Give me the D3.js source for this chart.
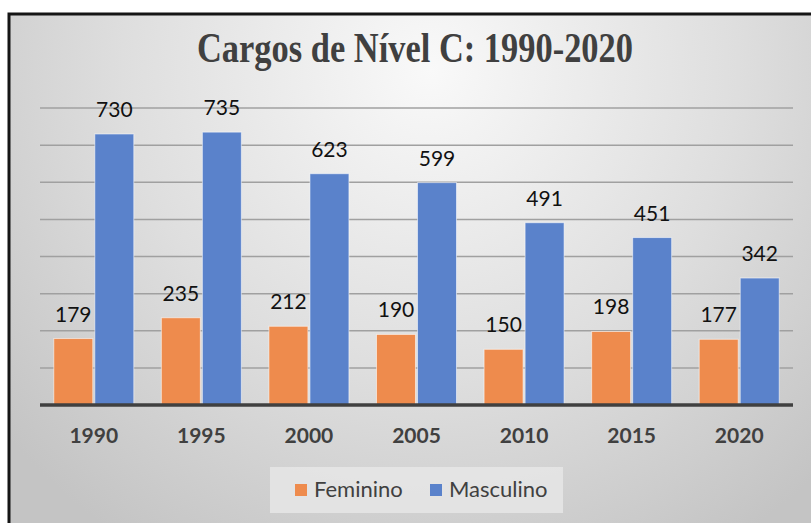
<!DOCTYPE html>
<html lang="pt">

<head>
  <meta charset="UTF-8">
  <title>Cargos de Nível C</title>
  <style>
    body {
      margin: 0;
      padding: 0;
      background: #fff;
    }

    svg {
      display: block;
    }

    .lbl {
      font-family: Lato, sans-serif;
      font-size: 21px;
      fill: #111;
    }

    .xlbl {
      font-family: Lato, sans-serif;
      font-weight: bold;
      font-size: 21px;
      fill: #404040;
    }

    .leg {
      font-family: Lato, sans-serif;
      font-size: 22px;
      fill: #404040;
    }
  </style>
</head>

<body>
  <div class="visual"></div>

  <script src="https://cdnjs.cloudflare.com/ajax/libs/d3/7.8.5/d3.min.js"></script>
  <script>
    'use strict';

    // data
    const years = ['1990', '1995', '2000', '2005', '2010', '2015', '2020'];
    const series = ['Feminino', 'Masculino'];
    const feminino = [179, 235, 212, 190, 150, 198, 177];
    const masculino = [730, 735, 623, 599, 491, 451, 342];
    const gridTicks = [100, 200, 300, 400, 500, 600, 700, 800];
    const colors = ['#ee8b4d', '#5a82cb'];

    const w = 811,
      h = 523;
    const plotLeft = 40,
      plotRight = 793,
      plotTop = 108,
      base = 405;

    const rows = years.map((yr, i) => ({ year: yr, values: [feminino[i], masculino[i]] }));

    const svg = d3.select('.visual')
      .append('svg')
      .attr('width', w)
      .attr('height', h);

    const defs = svg.append('defs');
    const grad = defs.append('radialGradient')
      .attr('id', 'bg')
      .attr('gradientUnits', 'userSpaceOnUse')
      .attr('cx', 430).attr('cy', 70).attr('r', 560);
    grad.append('stop').attr('offset', '0').attr('stop-color', '#f9f9f9');
    grad.append('stop').attr('offset', '0.55').attr('stop-color', '#dedede');
    grad.append('stop').attr('offset', '1').attr('stop-color', '#c4c4c4');

    // background + frame
    svg.append('rect')
      .attr('x', 9).attr('y', 14)
      .attr('width', 900).attr('height', 600)
      .attr('fill', 'url(#bg)')
      .attr('stroke', '#151515')
      .attr('stroke-width', 3);

    // title
    svg.append('text')
      .attr('x', 415)
      .attr('y', 62)
      .attr('text-anchor', 'middle')
      .attr('textLength', 436)
      .attr('lengthAdjust', 'spacingAndGlyphs')
      .style('font-family', '"Liberation Serif", "Times New Roman", serif')
      .style('font-weight', 'bold')
      .style('font-size', '42px')
      .style('fill', '#404040')
      .text('Cargos de Nível C: 1990-2020');

    const x0 = d3.scaleBand()
      .domain(years)
      .range([plotLeft, plotRight]);

    const step = x0.step();
    const x1 = d3.scaleBand()
      .domain(series)
      .range([(step - 80) / 2, (step + 80) / 2])
      .paddingInner(0.05);

    const y = d3.scaleLinear()
      .domain([0, 800])
      .range([base, plotTop]);

    // gridlines
    svg.append('g')
      .selectAll('line')
      .data(gridTicks)
      .join('line')
      .attr('x1', plotLeft)
      .attr('x2', plotRight)
      .attr('y1', d => y(d))
      .attr('y2', d => y(d))
      .attr('stroke', '#a0a0a0')
      .attr('stroke-width', 1.5);

    // bars
    const groups = svg.append('g')
      .selectAll('g')
      .data(rows)
      .join('g')
      .attr('transform', d => `translate(${x0(d.year)},0)`);

    groups.selectAll('rect')
      .data(d => d.values.map((v, i) => ({ key: series[i], value: v, i: i })))
      .join('rect')
      .attr('x', d => x1(d.key))
      .attr('y', d => y(d.value))
      .attr('width', x1.bandwidth())
      .attr('height', d => base - y(d.value))
      .attr('fill', d => colors[d.i])
      .attr('stroke', 'rgba(255,255,255,0.55)')
      .attr('stroke-width', 1);

    groups.selectAll('text')
      .data(d => d.values.map((v, i) => ({ key: series[i], value: v })))
      .join('text')
      .attr('class', 'lbl')
      .attr('x', d => x1(d.key) + x1.bandwidth() / 2)
      .attr('y', d => y(d.value) - 17)
      .attr('text-anchor', 'middle')
      .text(d => d.value);

    // x axis
    const xAxis = svg.append('g')
      .attr('transform', `translate(0,${base})`)
      .call(d3.axisBottom(x0).tickSize(0).tickPadding(24));
    xAxis.attr('font-family', null).attr('font-size', null);
    xAxis.select('.domain')
      .attr('stroke', '#404040')
      .attr('stroke-width', 3.5)
      .attr('d', `M${plotLeft},0H${plotRight}`);
    xAxis.selectAll('text')
      .attr('class', 'xlbl')
      .attr('fill', null)
      .attr('dy', null)
      .attr('y', 38);

    // legend
    const legend = svg.append('g');
    legend.append('rect')
      .attr('x', 270).attr('y', 467)
      .attr('width', 293).attr('height', 46)
      .attr('fill', '#e6e6e6')
      .attr('opacity', 0.85);

    const legX = [295, 430];
    const items = legend.selectAll('g')
      .data(series)
      .join('g')
      .attr('transform', (d, i) => `translate(${legX[i]},0)`);
    items.append('rect')
      .attr('x', 0).attr('y', 484)
      .attr('width', 12).attr('height', 12)
      .attr('fill', (d, i) => colors[i]);
    items.append('text')
      .attr('class', 'leg')
      .attr('x', 19)
      .attr('y', 497)
      .text(d => d);
  </script>
</body>

</html>
